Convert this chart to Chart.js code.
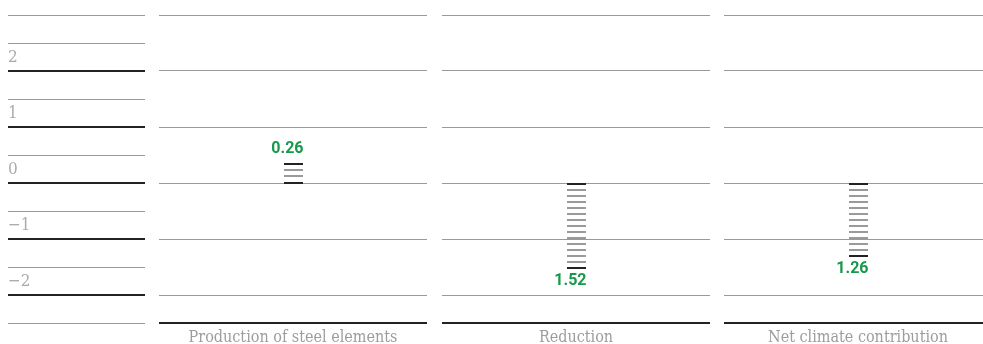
<!DOCTYPE html>
<html><head><meta charset="utf-8">
<script src="https://cdn.jsdelivr.net/npm/chart.js@4"></script>
<style>
html,body{margin:0;padding:0;background:#fff;overflow:hidden}
#wrap{position:relative;width:983px;height:344px;overflow:hidden}
canvas{position:absolute;top:0}
</style></head><body>
<div id="wrap">
<canvas id="axis" width="150" height="344" style="left:0"></canvas>
<canvas id="p0" width="268" height="344" style="left:159px"></canvas>
<canvas id="p1" width="268" height="344" style="left:442px"></canvas>
<canvas id="p2" width="268" height="344" style="left:724px"></canvas>
</div>
<script>
// ---- data ----
const categories = ["Production of steel elements", "Reduction", "Net climate contribution"];
const values = [0.26, -1.52, -1.26];
const axisValues = [2, 1, 0, -1, -2];
const axisLabels = ["2", "1", "0", "\u22121", "\u22122"];
const halfLines = [3, 2.5, 1.5, 0.5, -0.5, -1.5, -2.5];
const panelLines = [3, 2, 1, 0, -1, -2, -2.5];
const yMin = -2.5, yMax = 3;

const SERIF = "'DejaVu Serif Condensed', 'DejaVu Serif', serif";
const GRAY = '#9a9a9a', DARK = '#222222', GREEN = '#16994a';
const STRIPE_STEP = 6.07;

// left axis chart
new Chart(document.getElementById('axis'), {
  type: 'bar',
  data: { labels: [], datasets: [] },
  options: {
    responsive: false, animation: false, events: [],
    layout: { padding: { left: 8, right: 5, top: 15, bottom: 21 } },
    plugins: { legend: { display: false }, tooltip: { enabled: false } },
    scales: {
      x: { display: false },
      y: {
        min: yMin, max: yMax,
        afterBuildTicks(s) { s.ticks = axisValues.concat(halfLines).sort((a, b) => b - a).map(v => ({ value: v })); },
        afterFit(s) { s.width = 0; },
        border: { display: false },
        grid: {
          drawTicks: false,
          color: c => axisValues.includes(c.tick.value) ? DARK : GRAY,
          lineWidth: c => axisValues.includes(c.tick.value) ? 2 : 1
        },
        ticks: {
          mirror: true, padding: 0, labelOffset: -13, color: '#ababab',
          font: { family: SERIF, size: 17 },
          callback: v => { const i = axisValues.indexOf(v); return i >= 0 ? axisLabels[i] : ''; }
        }
      }
    }
  }
});

// striped bars + value labels, drawn from the bar elements' geometry
const stripedBars = {
  id: 'stripedBars',
  afterDatasetsDraw(chart) {
    const ctx = chart.ctx, meta = chart.getDatasetMeta(0);
    meta.data.forEach((el, i) => {
      const v = chart.data.datasets[0].data[i];
      const h = Math.abs(el.base - el.y);
      const dir = v >= 0 ? -1 : 1;
      const n = Math.max(1, Math.ceil(h / STRIPE_STEP - 0.2));
      const left = el.x - el.width / 2, w = el.width;
      ctx.save();
      for (let k = 0; k <= n; k++) {
        const y = el.base + dir * k * STRIPE_STEP;
        ctx.fillStyle = (k === 0 || k === n) ? DARK : GRAY;
        ctx.fillRect(Math.round(left), Math.round(y - 1), Math.round(w), 2);
      }
      const endY = el.base + dir * n * STRIPE_STEP;
      ctx.fillStyle = GREEN; ctx.font = 'bold 16px Roboto';
      ctx.textAlign = 'right'; ctx.textBaseline = 'alphabetic';
      const ty = v >= 0 ? endY - 11 : endY + 16.5;
      ctx.fillText(Math.abs(v).toFixed(2), left + w + 1, ty);
      ctx.restore();
    });
  }
};

function panelChart(id, i) {
  return new Chart(document.getElementById(id), {
    type: 'bar',
    data: {
      labels: [categories[i]],
      datasets: [{
        data: [values[i]],
        backgroundColor: 'rgba(0,0,0,0)',
        borderWidth: 0,
        barThickness: 19
      }]
    },
    options: {
      responsive: false, animation: false, events: [],
      layout: { padding: { top: 15, left: 0, right: 0, bottom: 0 } },
      plugins: { legend: { display: false }, tooltip: { enabled: false } },
      scales: {
        x: {
          grid: { display: false, drawTicks: false }, border: { display: false },
          afterFit(s) { s.height = 21; },
          ticks: { color: '#9d9d9d', padding: 5, maxRotation: 0, autoSkip: false,
                   font: { family: SERIF, size: 16 } }
        },
        y: {
          min: yMin, max: yMax,
          afterBuildTicks(s) { s.ticks = panelLines.map(v => ({ value: v })); },
          afterFit(s) { s.width = 0; },
          ticks: { display: false },
          border: { display: false },
          grid: {
            drawTicks: false,
            color: c => c.tick.value === yMin ? DARK : GRAY,
            lineWidth: c => c.tick.value === yMin ? 2 : 1
          }
        }
      }
    },
    plugins: [stripedBars]
  });
}
panelChart('p0', 0);
panelChart('p1', 1);
panelChart('p2', 2);
</script>
</body></html>
